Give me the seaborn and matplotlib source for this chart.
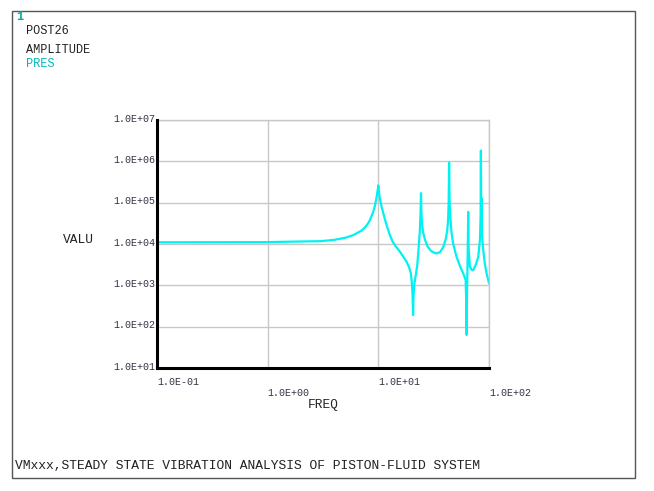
import matplotlib
matplotlib.use("Agg")
import matplotlib.pyplot as plt
import matplotlib.ticker as mticker
from matplotlib.patches import Rectangle
import seaborn as sns
import pandas as pd

# ---- data ----
freq = [0.1, 1.0, 2.0, 3.0, 4.0, 5.0, 6.0, 7.0, 7.5, 8.0, 8.4, 9.0, 9.3, 9.6,
        9.9, 10.0, 10.1, 10.3, 10.6, 11.1, 11.6, 12.0, 12.7, 13.5, 14.5, 15.7,
        17.0, 18.0, 19.0, 19.7, 20.1, 20.4, 20.6, 20.8, 21.2, 21.8, 22.5, 23.2,
        23.7, 24.0, 24.2, 24.3, 24.5, 24.8, 25.4, 26.4, 28.0, 30.0, 33.1, 36.0,
        38.5, 40.5, 41.8, 42.7, 43.2, 43.6, 44.0, 44.6, 45.9, 47.5, 50.9, 55.0,
        58.5, 61.5, 62.3, 62.8, 63.3, 64.2, 64.9, 65.5, 67.2, 70.0, 72.0, 76.0,
        80.0, 82.8, 84.0, 84.5, 85.1, 85.8, 86.6, 88.7, 92.0, 95.1, 100.0]
pres = [1.10e4, 1.11e4, 1.15e4, 1.17e4, 1.26e4, 1.41e4, 1.66e4, 2.09e4, 2.45e4,
        3.02e4, 3.8e4, 6.0e4, 8.3e4, 1.26e5, 2.14e5, 2.63e5, 2.0e5, 1.32e5,
        8.9e4, 5.5e4, 3.55e4, 2.63e4, 1.66e4, 1.12e4, 8.5e3, 6.46e3, 4.7e3,
        3.72e3, 2.7e3, 1.9e3, 1.12e3, 562, 191, 562, 1.12e3, 1.78e3, 3.16e3,
        8.9e3, 2.0e4, 4.47e4, 1.0e5, 1.70e5, 6.3e4, 3.16e4, 1.9e4, 1.26e4,
        8.5e3, 6.76e3, 5.9e3, 6.3e3, 8.3e3, 1.26e4, 2.0e4, 3.8e4, 1.0e5, 9.3e5,
        1.26e5, 5.0e4, 1.82e4, 1.0e4, 4.9e3, 2.8e3, 1.95e3, 1.35e3, 398, 63,
        631, 6.3e3, 6.0e4, 7.9e3, 2.8e3, 2.34e3, 2.34e3, 3.16e3, 4.9e3, 1.26e4,
        5.0e4, 1.82e6, 3.16e4, 1.29e5, 1.58e4, 7.1e3, 3.16e3, 1.95e3, 1.12e3]
x_ticks = [0.1, 1.0, 10.0, 100.0]
x_tick_labels = ["1.0E-01", "1.0E+00", "1.0E+01", "1.0E+02"]
y_ticks = [1e1, 1e2, 1e3, 1e4, 1e5, 1e6, 1e7]
y_tick_labels = ["1.0E+01", "1.0E+02", "1.0E+03", "1.0E+04",
                 "1.0E+05", "1.0E+06", "1.0E+07"]

df = pd.DataFrame({"FREQ": freq, "PRES": pres})

sns.set_style("white")
plt.rcParams["font.family"] = ["Liberation Mono", "DejaVu Sans Mono"]

W, H = 654, 491
fig = plt.figure(figsize=(W / 100, H / 100), dpi=100)
fig.patch.set_facecolor("white")

def fx(px):
    return px / W

def fy(py):
    return 1 - py / H

ax = fig.add_axes([fx(157), fy(368), fx(489) - fx(157), fy(120) - fy(368)])
ax.set_xscale("log")
ax.set_yscale("log")
ax.set_xlim(0.1, 100)
ax.set_ylim(1e1, 1e7)

sns.lineplot(data=df, x="FREQ", y="PRES", ax=ax, sort=False, estimator=None,
             color="#00f2f2", linewidth=1.6)

ax.set_xticks(x_ticks)
ax.set_yticks(y_ticks)
ax.xaxis.set_minor_locator(mticker.LogLocator(base=10, subs=[2, 4, 6, 8]))
ax.yaxis.set_minor_locator(mticker.LogLocator(base=10, subs=[2, 4, 6, 8]))
ax.xaxis.set_minor_formatter(mticker.NullFormatter())
ax.yaxis.set_minor_formatter(mticker.NullFormatter())
ax.set_xticklabels([])
ax.set_yticklabels([])
ax.tick_params(which="major", length=4, color="#bbbbbb", width=0.8)
ax.tick_params(which="minor", length=3, color="#bbbbbb", width=0.8)
ax.grid(True, which="major", color="#c8c8c8", linewidth=1.0)
ax.set_axisbelow(True)
ax.set_xlabel("")
ax.set_ylabel("")

for s in ["top", "right"]:
    ax.spines[s].set_color("#c8c8c8")
    ax.spines[s].set_linewidth(1.0)
for s in ["left", "bottom"]:
    ax.spines[s].set_color("black")
    ax.spines[s].set_linewidth(2.2)
    ax.spines[s].set_zorder(5)

tick_col = "#333344"
# y tick labels
for v, lab in zip(y_ticks, y_tick_labels):
    ax.annotate(lab, xy=(0, v), xycoords=("axes fraction", "data"),
                xytext=(-2, 1.5), textcoords="offset pixels",
                ha="right", va="center", fontsize=7.2, color=tick_col)
# x tick labels, staggered
for i, (v, lab) in enumerate(zip(x_ticks, x_tick_labels)):
    off = -14 if i % 2 == 0 else -25
    ax.annotate(lab, xy=(v, 0), xycoords=("data", "axes fraction"),
                xytext=(0, off), textcoords="offset pixels",
                ha="left", va="center", fontsize=7.2, color=tick_col)

# axis titles
fig.text(fx(63), fy(240), "VALU", fontsize=9.3, color="#222222", ha="left", va="center")
fig.text(fx(308), fy(405), "FREQ", fontsize=9.3, color="#222222", ha="left", va="center")

# header texts
fig.text(fx(16), fy(17), "1", fontsize=8.6, color="#00aaaa", ha="left", va="center",
         fontweight="bold")
fig.text(fx(26), fy(31), "POST26", fontsize=8.6, color="#222222", ha="left", va="center")
fig.text(fx(26), fy(50), "AMPLITUDE", fontsize=8.6, color="#222222", ha="left", va="center")
fig.text(fx(26), fy(64), "PRES", fontsize=8.6, color="#00b8b8", ha="left", va="center")

# footer
fig.text(fx(15), fy(466), "VMxxx,STEADY STATE VIBRATION ANALYSIS OF PISTON-FLUID SYSTEM",
         fontsize=9.4, color="#222222", ha="left", va="center")

# outer frame
fig.patches.append(Rectangle((fx(12), fy(478)), fx(635) - fx(12), fy(11) - fy(478),
                             transform=fig.transFigure, fill=False,
                             edgecolor="#555555", linewidth=1.0))

fig.savefig("out.png", dpi=100, facecolor="white")
